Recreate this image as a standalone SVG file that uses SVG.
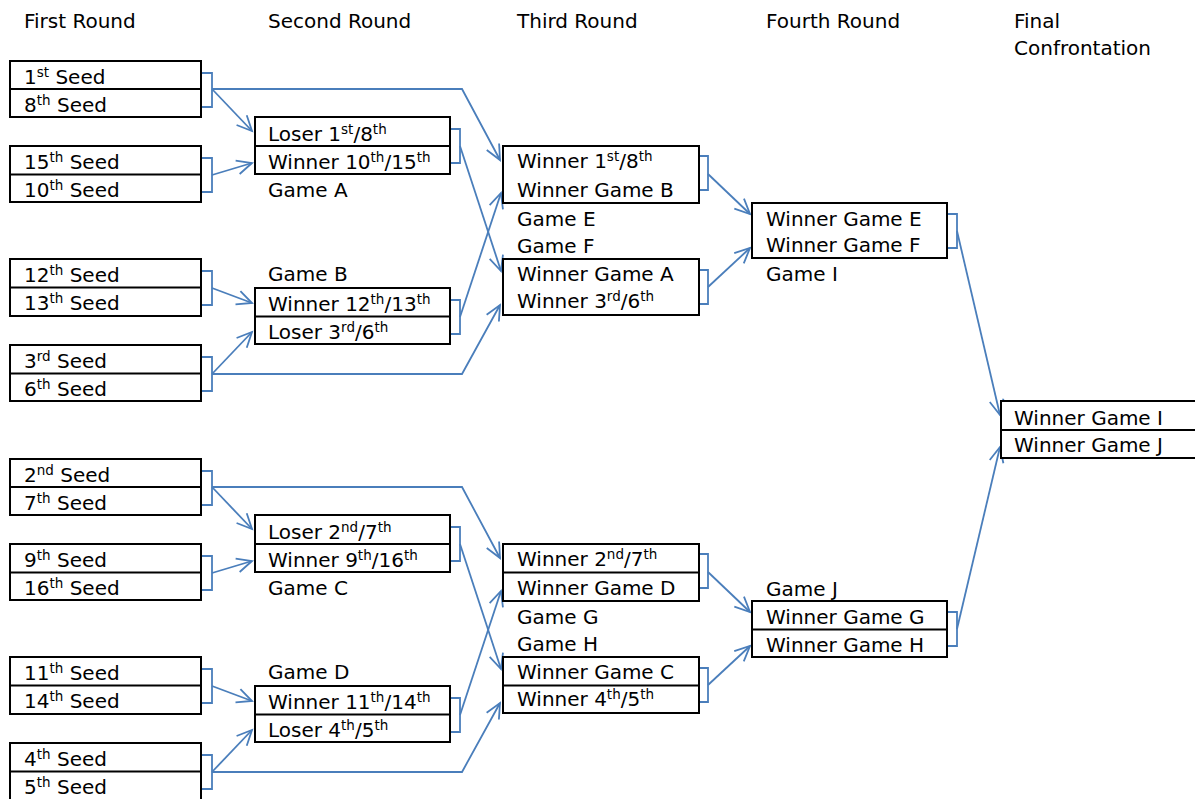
<svg xmlns="http://www.w3.org/2000/svg" width="1195" height="799" viewBox="0 0 1195 799">
<style>
text{font-family:"DejaVu Sans","Verdana",sans-serif;font-size:20px;fill:#000}
.s{font-size:13.5px}
.box{fill:#fff;stroke:#000;stroke-width:2}
.div{stroke:#000;stroke-width:2}
.c{fill:none;stroke:#4a7ebb;stroke-width:1.8}
</style>
<defs>
<marker id="ah" markerUnits="userSpaceOnUse" markerWidth="20" markerHeight="18" refX="16" refY="8" orient="auto" overflow="visible">
<path d="M1,1 L16,8 L1,15" fill="none" stroke="#4a7ebb" stroke-width="1.8"/>
</marker>
</defs>
<rect width="1195" height="799" fill="#fff"/>
<g id="headers">
<text x="24" y="28">First Round</text>
<text x="268" y="28">Second Round</text>
<text x="517" y="28">Third Round</text>
<text x="766" y="28">Fourth Round</text>
<text x="1014" y="28">Final</text>
<text x="1014" y="55">Confrontation</text>
</g>
<g id="connectors">
<path class="c" d="M201,73 H212 V107 H201"/>
<path class="c" d="M201,158 H212 V192 H201"/>
<path class="c" d="M201,271 H212 V305 H201"/>
<path class="c" d="M201,357 H212 V391 H201"/>
<path class="c" d="M450,129 H460 V163 H450"/>
<path class="c" d="M450,300 H460 V334 H450"/>
<path class="c" d="M699,156 H708 V190 H699"/>
<path class="c" d="M699,270 H708 V304 H699"/>
<path class="c" d="M947,214 H957 V248 H947"/>
<path class="c" d="M212,89 L252,131" marker-end="url(#ah)"/>
<path class="c" d="M212,89 H462 L500,160" marker-end="url(#ah)"/>
<path class="c" d="M212,175 L252,163" marker-end="url(#ah)"/>
<path class="c" d="M460,146 L501,271" marker-end="url(#ah)"/>
<path class="c" d="M212,288 L252,303" marker-end="url(#ah)"/>
<path class="c" d="M212,374 L252,332" marker-end="url(#ah)"/>
<path class="c" d="M212,374 H462 L500,305" marker-end="url(#ah)"/>
<path class="c" d="M460,317 L501,193" marker-end="url(#ah)"/>
<path class="c" d="M708,174 L750,214" marker-end="url(#ah)"/>
<path class="c" d="M708,287 L750,248" marker-end="url(#ah)"/>
<path class="c" d="M957,231 L1000,415" marker-end="url(#ah)"/>
<path class="c" d="M201,471 H212 V505 H201"/>
<path class="c" d="M201,556 H212 V590 H201"/>
<path class="c" d="M201,669 H212 V703 H201"/>
<path class="c" d="M201,755 H212 V789 H201"/>
<path class="c" d="M450,527 H460 V561 H450"/>
<path class="c" d="M450,698 H460 V732 H450"/>
<path class="c" d="M699,554 H708 V588 H699"/>
<path class="c" d="M699,668 H708 V702 H699"/>
<path class="c" d="M947,612 H957 V646 H947"/>
<path class="c" d="M212,487 L252,529" marker-end="url(#ah)"/>
<path class="c" d="M212,487 H462 L500,558" marker-end="url(#ah)"/>
<path class="c" d="M212,573 L252,561" marker-end="url(#ah)"/>
<path class="c" d="M460,544 L501,669" marker-end="url(#ah)"/>
<path class="c" d="M212,686 L252,701" marker-end="url(#ah)"/>
<path class="c" d="M212,772 L252,730" marker-end="url(#ah)"/>
<path class="c" d="M212,772 H462 L500,703" marker-end="url(#ah)"/>
<path class="c" d="M460,715 L501,591" marker-end="url(#ah)"/>
<path class="c" d="M708,572 L750,612" marker-end="url(#ah)"/>
<path class="c" d="M708,685 L750,646" marker-end="url(#ah)"/>
<path class="c" d="M957,629 L1000,447" marker-end="url(#ah)"/>
</g>
<g id="r1-1-8">
<rect class="box" x="10" y="61" width="191" height="56"/><line class="div" x1="10" y1="89" x2="201" y2="89"/>
<text x="24" y="84">1<tspan class="s" dy="-7">st</tspan><tspan dy="7"> Seed</tspan></text>
<text x="24" y="112">8<tspan class="s" dy="-7">th</tspan><tspan dy="7"> Seed</tspan></text>
</g>
<g id="r1-15-10">
<rect class="box" x="10" y="146" width="191" height="56"/><line class="div" x1="10" y1="174.5" x2="201" y2="174.5"/>
<text x="24" y="169">15<tspan class="s" dy="-7">th</tspan><tspan dy="7"> Seed</tspan></text>
<text x="24" y="197">10<tspan class="s" dy="-7">th</tspan><tspan dy="7"> Seed</tspan></text>
</g>
<g id="r1-12-13">
<rect class="box" x="10" y="259" width="191" height="57"/><line class="div" x1="10" y1="287.5" x2="201" y2="287.5"/>
<text x="24" y="282">12<tspan class="s" dy="-7">th</tspan><tspan dy="7"> Seed</tspan></text>
<text x="24" y="310">13<tspan class="s" dy="-7">th</tspan><tspan dy="7"> Seed</tspan></text>
</g>
<g id="r1-3-6">
<rect class="box" x="10" y="345" width="191" height="56"/><line class="div" x1="10" y1="373.5" x2="201" y2="373.5"/>
<text x="24" y="368">3<tspan class="s" dy="-7">rd</tspan><tspan dy="7"> Seed</tspan></text>
<text x="24" y="396">6<tspan class="s" dy="-7">th</tspan><tspan dy="7"> Seed</tspan></text>
</g>
<g id="r1-2-7">
<rect class="box" x="10" y="459" width="191" height="56"/><line class="div" x1="10" y1="487" x2="201" y2="487"/>
<text x="24" y="482">2<tspan class="s" dy="-7">nd</tspan><tspan dy="7"> Seed</tspan></text>
<text x="24" y="510">7<tspan class="s" dy="-7">th</tspan><tspan dy="7"> Seed</tspan></text>
</g>
<g id="r1-9-16">
<rect class="box" x="10" y="544" width="191" height="56"/><line class="div" x1="10" y1="572.5" x2="201" y2="572.5"/>
<text x="24" y="567">9<tspan class="s" dy="-7">th</tspan><tspan dy="7"> Seed</tspan></text>
<text x="24" y="595">16<tspan class="s" dy="-7">th</tspan><tspan dy="7"> Seed</tspan></text>
</g>
<g id="r1-11-14">
<rect class="box" x="10" y="657" width="191" height="57"/><line class="div" x1="10" y1="685.5" x2="201" y2="685.5"/>
<text x="24" y="680">11<tspan class="s" dy="-7">th</tspan><tspan dy="7"> Seed</tspan></text>
<text x="24" y="708">14<tspan class="s" dy="-7">th</tspan><tspan dy="7"> Seed</tspan></text>
</g>
<g id="r1-4-5">
<rect class="box" x="10" y="743" width="191" height="60"/><line class="div" x1="10" y1="771.5" x2="201" y2="771.5"/>
<text x="24" y="766">4<tspan class="s" dy="-7">th</tspan><tspan dy="7"> Seed</tspan></text>
<text x="24" y="794">5<tspan class="s" dy="-7">th</tspan><tspan dy="7"> Seed</tspan></text>
</g>
<g id="game-a">
<rect class="box" x="255" y="117" width="195" height="57"/><line class="div" x1="255" y1="146" x2="450" y2="146"/>
<text x="268" y="141">Loser 1<tspan class="s" dy="-7">st</tspan><tspan dy="7">/8</tspan><tspan class="s" dy="-7">th</tspan></text>
<text x="268" y="169">Winner 10<tspan class="s" dy="-7">th</tspan><tspan dy="7">/15</tspan><tspan class="s" dy="-7">th</tspan></text>
<text x="268" y="197">Game A</text>
</g>
<g id="game-b">
<text x="268" y="281">Game B</text>
<rect class="box" x="255" y="288" width="195" height="56"/><line class="div" x1="255" y1="316.5" x2="450" y2="316.5"/>
<text x="268" y="311">Winner 12<tspan class="s" dy="-7">th</tspan><tspan dy="7">/13</tspan><tspan class="s" dy="-7">th</tspan></text>
<text x="268" y="339">Loser 3<tspan class="s" dy="-7">rd</tspan><tspan dy="7">/6</tspan><tspan class="s" dy="-7">th</tspan></text>
</g>
<g id="game-c">
<rect class="box" x="255" y="515" width="195" height="57"/><line class="div" x1="255" y1="544" x2="450" y2="544"/>
<text x="268" y="539">Loser 2<tspan class="s" dy="-7">nd</tspan><tspan dy="7">/7</tspan><tspan class="s" dy="-7">th</tspan></text>
<text x="268" y="567">Winner 9<tspan class="s" dy="-7">th</tspan><tspan dy="7">/16</tspan><tspan class="s" dy="-7">th</tspan></text>
<text x="268" y="595">Game C</text>
</g>
<g id="game-d">
<text x="268" y="679">Game D</text>
<rect class="box" x="255" y="686" width="195" height="56"/><line class="div" x1="255" y1="714.5" x2="450" y2="714.5"/>
<text x="268" y="709">Winner 11<tspan class="s" dy="-7">th</tspan><tspan dy="7">/14</tspan><tspan class="s" dy="-7">th</tspan></text>
<text x="268" y="737">Loser 4<tspan class="s" dy="-7">th</tspan><tspan dy="7">/5</tspan><tspan class="s" dy="-7">th</tspan></text>
</g>
<g id="game-e">
<rect class="box" x="503" y="146" width="196" height="57"/>
<text x="517" y="168">Winner 1<tspan class="s" dy="-7">st</tspan><tspan dy="7">/8</tspan><tspan class="s" dy="-7">th</tspan></text>
<text x="517" y="197">Winner Game B</text>
<text x="517" y="226">Game E</text>
</g>
<g id="game-f">
<text x="517" y="253">Game F</text>
<rect class="box" x="503" y="259" width="196" height="56"/>
<text x="517" y="281">Winner Game A</text>
<text x="517" y="308">Winner 3<tspan class="s" dy="-7">rd</tspan><tspan dy="7">/6</tspan><tspan class="s" dy="-7">th</tspan></text>
</g>
<g id="game-g">
<rect class="box" x="503" y="544" width="196" height="57"/><line class="div" x1="503" y1="572.5" x2="699" y2="572.5"/>
<text x="517" y="566">Winner 2<tspan class="s" dy="-7">nd</tspan><tspan dy="7">/7</tspan><tspan class="s" dy="-7">th</tspan></text>
<text x="517" y="595">Winner Game D</text>
<text x="517" y="624">Game G</text>
</g>
<g id="game-h">
<text x="517" y="651">Game H</text>
<rect class="box" x="503" y="657" width="196" height="56"/><line class="div" x1="503" y1="685.5" x2="699" y2="685.5"/>
<text x="517" y="679">Winner Game C</text>
<text x="517" y="706">Winner 4<tspan class="s" dy="-7">th</tspan><tspan dy="7">/5</tspan><tspan class="s" dy="-7">th</tspan></text>
</g>
<g id="game-i">
<rect class="box" x="752" y="203" width="195" height="55"/>
<text x="766" y="226">Winner Game E</text>
<text x="766" y="252">Winner Game F</text>
<text x="766" y="281">Game I</text>
</g>
<g id="game-j">
<text x="766" y="596">Game J</text>
<rect class="box" x="752" y="601" width="195" height="56"/><line class="div" x1="752" y1="629.5" x2="947" y2="629.5"/>
<text x="766" y="624">Winner Game G</text>
<text x="766" y="652">Winner Game H</text>
</g>
<g id="final">
<rect class="box" x="1001" y="401" width="220" height="57"/><line class="div" x1="1001" y1="430" x2="1195" y2="430"/>
<text x="1014" y="425">Winner Game I</text>
<text x="1014" y="452">Winner Game J</text>
</g>
</svg>
